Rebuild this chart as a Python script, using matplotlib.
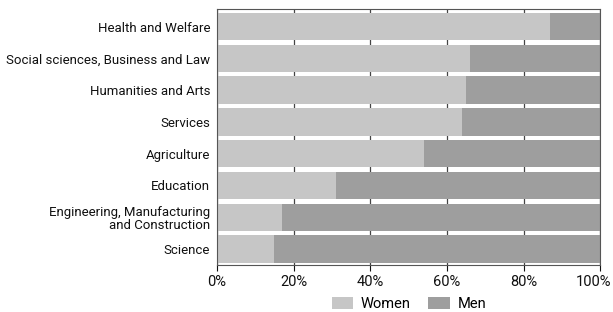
import numpy as np
import matplotlib.pyplot as plt
import matplotlib.transforms as mtransforms
from matplotlib.ticker import PercentFormatter

fields = ['Health and Welfare', 'Social sciences, Business and Law', 'Humanities and Arts',
          'Services', 'Agriculture', 'Education',
          'Engineering, Manufacturing\nand Construction', 'Science']
women = np.array([87, 66, 65, 64, 54, 31, 17, 15])  # percent
men = 100 - women

plt.rcParams['font.family'] = ['Roboto', 'DejaVu Sans']

fig = plt.figure(figsize=(6.13, 3.12), dpi=100)
ax = fig.add_axes([0.354, 0.151, 0.625, 0.82])

y = np.arange(len(fields))
ax.barh(y, women, height=0.86, color='#c6c6c6', label='Women', zorder=2)
ax.barh(y, men, left=women, height=0.86, color='#9e9e9e', label='Men', zorder=2)

ax.set_xlim(0, 100)
ax.set_ylim(len(fields) - 0.5, -0.55)
ax.set_yticks(y)
ax.set_yticklabels(fields, fontsize=9.5, color='#111111', linespacing=1.05)
ax.tick_params(axis='y', length=0, pad=5)
ax.set_xticks(np.arange(0, 101, 20))
ax.xaxis.set_major_formatter(PercentFormatter(decimals=0))
ax.tick_params(axis='x', labelsize=10.5, colors='#111111', length=4, width=0.8,
               direction='out', pad=3)
ax.grid(axis='x', color='#444444', linewidth=0.9, zorder=1)

# pull the "100%" label in a little so it stays inside the figure
last = ax.get_xticklabels()[-1]
last.set_transform(last.get_transform()
                   + mtransforms.ScaledTranslation(-5 / 72, 0, fig.dpi_scale_trans))

for side in ['top', 'right', 'left', 'bottom']:
    ax.spines[side].set_color('#555555')
    ax.spines[side].set_linewidth(0.8)

fig.legend(loc='lower center', bbox_to_anchor=(0.667, -0.04), ncol=2, frameon=False,
           fontsize=10.5, handlelength=1.5, handleheight=0.9, handletextpad=0.5,
           columnspacing=1.2)

fig.savefig('out.png', dpi=100)
